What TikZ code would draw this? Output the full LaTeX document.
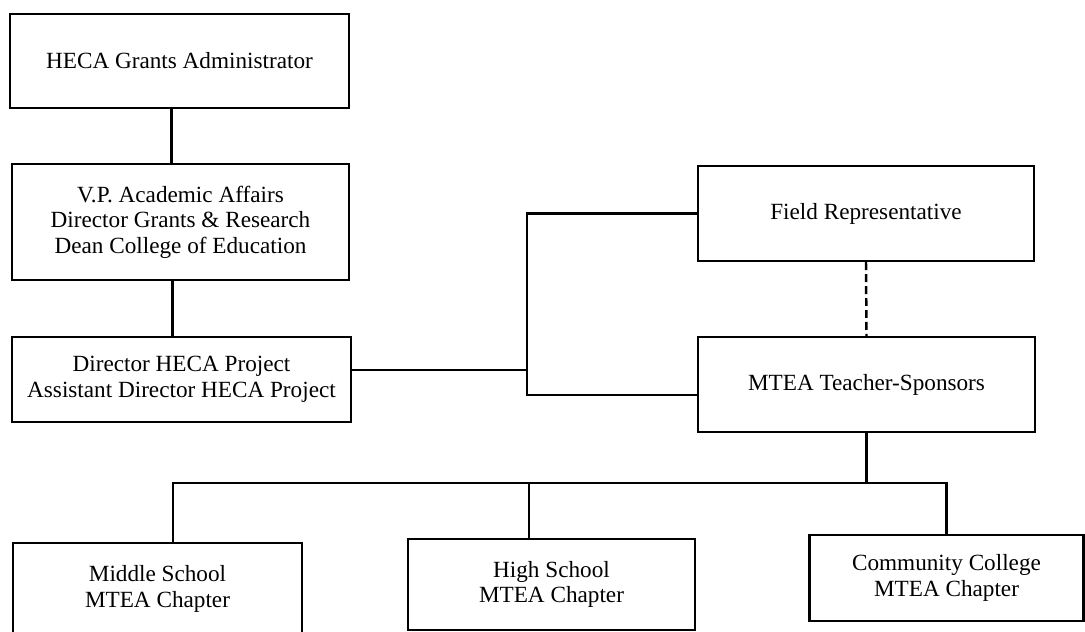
\documentclass[tikz,border=0pt]{standalone}
\usepackage{fontspec}
\setmainfont{Liberation Serif}
\usetikzlibrary{calc, positioning}

\begin{document}
\begin{tikzpicture}[
  orgbox/.style={draw, line width=1.4pt, inner sep=0pt, align=center, font=\fontsize{13.2}{14.5}\selectfont},
  link/.style={line width=1.4pt},
  ]
  \useasboundingbox (0, 0) rectangle (21.7, -12.64);

  % Left column
  \node[orgbox, minimum width=6.78cm, minimum height=1.88cm] (admin) at (3.59, -1.22) {HECA Grants Administrator};
  \node[orgbox, minimum width=6.74cm, minimum height=2.32cm] (acad) at (3.61, -4.44) {V.P. Academic Affairs\\Director Grants \& Research\\Dean College of Education};
  \node[orgbox, minimum width=6.78cm, minimum height=1.70cm] (proj) at (3.63, -7.59) {Director HECA Project\\Assistant Director HECA Project};

  % Right column
  \node[orgbox, minimum width=6.72cm, minimum height=1.90cm] (field) at (17.32, -4.27) {Field Representative};
  \node[orgbox, minimum width=6.74cm, minimum height=1.90cm] (sponsors) at (17.33, -7.69) {MTEA Teacher-Sponsors};

  % Chapters
  \node[orgbox, minimum width=5.78cm, minimum height=1.84cm] (middle) at (3.15, -11.78) {Middle School\\MTEA Chapter};
  \node[orgbox, minimum width=5.74cm, minimum height=1.82cm] (high) at (11.03, -11.69) {High School\\MTEA Chapter};
  \node[orgbox, minimum width=5.48cm, minimum height=1.72cm] (college) at (18.93, -11.56) {Community College\\MTEA Chapter};

  % Connectors
  \coordinate (spine) at (10.54, -7.40);
  \coordinate (bus) at (17.33, -9.66);
  \draw[link] ([xshift=-0.16cm]admin.south) -- ([xshift=-0.16cm]admin.south |- acad.north);
  \draw[link] ([xshift=-0.16cm]acad.south) -- ([xshift=-0.16cm]acad.south |- proj.north);
  \draw[link] ([yshift=0.19cm]proj.east) -- (spine);
  \draw[link] (field.west) -| (spine) |- ([yshift=-0.21cm]sponsors.west);
  \draw[link, dash pattern=on 4.5pt off 2.3pt] (field.south) -- (sponsors.north);
  \draw[link] (sponsors.south) -- (bus);
  \draw[link] ([xshift=0.31cm]middle.north) |- (bus) -| (college.north);
  \draw[link] ([xshift=-0.45cm]high.north) -- ([xshift=-0.45cm]high.north |- bus);
\end{tikzpicture}
\end{document}
